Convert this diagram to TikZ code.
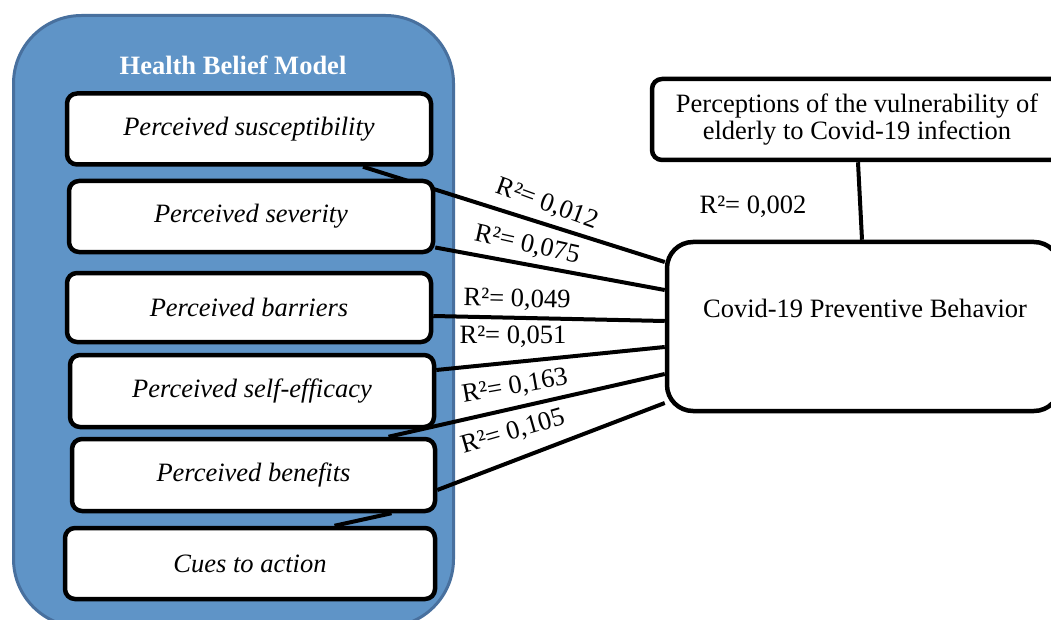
\documentclass[tikz,border=0pt]{standalone}
\usepackage{fontspec}
\setmainfont{Liberation Serif}
\usetikzlibrary{calc}
\definecolor{hbmfill}{RGB}{95,148,199}
\definecolor{hbmdraw}{RGB}{72,112,158}
\newcommand{\fsz}{\fontsize{26.5}{27}\selectfont}
\pgfdeclarelayer{bgzero}
\pgfdeclarelayer{bgone}
\pgfsetlayers{bgzero,bgone,main}
\begin{document}
\begin{tikzpicture}[x=1pt,y=-1pt,
  container/.style={draw=hbmdraw, line width=3pt, fill=hbmfill, rounded corners=68pt, inner sep=0pt},
  box/.style={draw=black, line width=4.5pt, fill=white, rounded corners=10pt, minimum width=364pt, minimum height=71pt, inner sep=0pt, font=\itshape\fsz},
  bigbox/.style={draw=black, line width=4.5pt, fill=white, inner sep=0pt},
  link/.style={line width=4pt},
  rlabel/.style={font=\fsz, inner sep=0pt},
  title/.style={font=\bfseries\fsz, text=white, inner sep=0pt}]
\useasboundingbox (0,0) rectangle (1051,620);
\begin{pgfonlayer}{bgzero}
\node[container, minimum width=440pt, minimum height=611.5pt] (hbm) at (233.5,321.25) {};
\end{pgfonlayer}
\node[title] (hbmtitle) at (233,65) {Health Belief Model};
\node[box] (sus) at (249,129) {Perceived susceptibility};
\node[box] (sev) at (251,216.5) {Perceived severity};
\node[box, minimum height=69pt] (bar) at (249,307.5) {Perceived barriers};
\node[box, minimum height=72pt] (eff) at (252,391) {Perceived self-efficacy};
\node[box, minimum width=363pt, minimum height=72pt] (ben) at (253.5,475) {Perceived benefits};
\node[box, minimum width=370pt] (cue) at (250,563.5) {Cues to action};
\node[bigbox, rounded corners=10pt, minimum width=410pt, minimum height=81pt, align=center, font=\fsz] (per) at (857,119.5) {Perceptions of the vulnerability of\\elderly to Covid-19 infection};
\node[bigbox, rounded corners=26pt, minimum width=393pt, minimum height=169pt] (cov) at (863.5,326.5) {};
\node[rlabel] (covtxt) at (865,308) {Covid-19 Preventive Behavior};
\begin{pgfonlayer}{bgone}
\draw[link] ([xshift=114pt]sus.south) -- ([yshift=64.5pt]cov.west);
\draw[link] ([yshift=-31pt]sev.east) -- ([yshift=36.5pt]cov.west);
\draw[link] ([yshift=-8.5pt]bar.east) -- ([yshift=5.5pt]cov.west);
\draw[link] ([yshift=21pt]eff.east) -- ([yshift=-20.5pt]cov.west);
\draw[link] ([xshift=135pt]ben.north) -- ([yshift=-47.5pt]cov.west);
\draw[link] ([yshift=-15pt]ben.east) -- ([yshift=-76.5pt]cov.west);
\draw[link] ([xshift=84.5pt]cue.north) -- ([xshift=138pt]ben.south);
\draw[link] ([xshift=1pt]per.south) -- ([xshift=-1.5pt]cov.north);
\end{pgfonlayer}
\node[rlabel, rotate=-20] (r1) at (547,204) {R²= 0,012};
\node[rlabel, rotate=-12.5] (r2) at (527,245) {R²= 0,075};
\node[rlabel, rotate=-1.3] (r3) at (517,300) {R²= 0,049};
\node[rlabel] (r4) at (513,337) {R²= 0,051};
\node[rlabel, rotate=10] (r5) at (515,387) {R²= 0,163};
\node[rlabel, rotate=16] (r6) at (513,432) {R²= 0,105};
\node[rlabel] (r7) at (753,207) {R²= 0,002};
\end{tikzpicture}
\end{document}
